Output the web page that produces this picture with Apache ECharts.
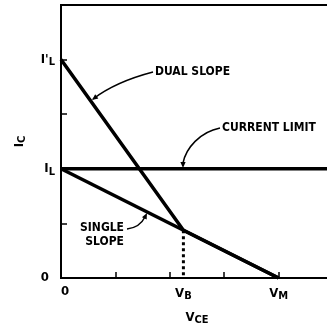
<!DOCTYPE html>
<html lang="en">
<head>
	<meta charset="UTF-8">
	<title>Dual slope current limit</title>
	<style>
		html, body { margin: 0; padding: 0; background: #fff; }
	</style>
</head>
<body>
	<div id="main" style="width: 327px;height:327px;"></div>
</body>
<script type="text/javascript" src="https://cdn.jsdelivr.net/npm/echarts@6/dist/echarts.min.js"></script>
<script type="text/javascript">
	// values (axis units: tick spacing = 1)
	var vB = 2.25;          // V_B
	var vM = 4;             // V_M
	var iL = 2;             // I_L
	var iLp = 4;            // I'_L
	var kneeI = 0.875;      // current at V_B on the single slope

	var dualSlope = [[0, iLp], [vB, kneeI], [vM, 0]];
	var singleSlope = [[0, iL], [vM, 0]];
	var currentLimit = [[0, iL], [5, iL]];
	var vbDrop = [[vB, kneeI], [vB, 0]];

	var xTicks = [1, 2, 3, 4];
	var yTicks = [1, 2, 3, 4];
	var xLabelValues = [0, vB, vM];
	var yLabelValues = [0, iL, iLp];

	var font = '"Liberation Sans Narrow", "DejaVu Sans Condensed", sans-serif';
	var black = '#000';

	var myChart = echarts.init(document.getElementById('main'));

	myChart.setOption({
		animation: false,
		grid: {
			left: 61, width: 272, top: 5, height: 273,
			outerBoundsMode: 'none',
			show: true, borderColor: black, borderWidth: 2
		},
		xAxis: {
			type: 'value', min: 0, max: 5,
			name: '{v|V}{s|CE}',
			nameLocation: 'middle', nameGap: 31,
			nameTextStyle: {
				rich: {
					v: { fontFamily: font, fontWeight: 'bold', fontSize: 13, color: black },
					s: { fontFamily: font, fontWeight: 'bold', fontSize: 11, color: black, verticalAlign: 'bottom', padding: [6, 0, 0, 0] }
				}
			},
			splitLine: { show: false },
			axisLine: { lineStyle: { color: black, width: 2 } },
			axisTick: { show: true, inside: true, length: 6, customValues: xTicks, lineStyle: { color: black, width: 1.5 } },
			axisLabel: {
				customValues: xLabelValues,
				margin: 7,
				formatter: function (v) {
					if (v === 0) return '{z|0}';
					if (v === vB) return '{n|V}{s|B}';
					if (v === vM) return '{n|V}{s|M}';
					return '';
				},
				rich: {
					z: { fontFamily: font, fontWeight: 'bold', fontSize: 13, color: black, padding: [0, 0, 0, 8] },
					n: { fontFamily: font, fontWeight: 'bold', fontSize: 13, color: black },
					s: { fontFamily: font, fontWeight: 'bold', fontSize: 11, color: black, padding: [6, 0, 0, 0] }
				}
			}
		},
		yAxis: {
			type: 'value', min: 0, max: 5,
			name: '{v|I}{s|C}',
			nameLocation: 'middle', nameGap: 33, nameRotate: 90,
			nameTextStyle: {
				rich: {
					v: { fontFamily: font, fontWeight: 'bold', fontSize: 13, color: black },
					s: { fontFamily: font, fontWeight: 'bold', fontSize: 11, color: black, padding: [6, 0, 0, 0] }
				}
			},
			splitLine: { show: false },
			axisLine: { lineStyle: { color: black, width: 2 } },
			axisTick: { show: true, inside: true, length: 6, customValues: yTicks, lineStyle: { color: black, width: 1.5 } },
			axisLabel: {
				customValues: yLabelValues,
				margin: 6,
				formatter: function (v) {
					if (v === 0) return '{z|0}';
					if (v === iL) return '{n|I}{s|L}';
					if (v === iLp) return '{n|I\'}{s|L}';
					return '';
				},
				rich: {
					z: { fontFamily: font, fontWeight: 'bold', fontSize: 13, color: black, padding: [0, 6, 0, 0] },
					n: { fontFamily: font, fontWeight: 'bold', fontSize: 13, color: black },
					s: { fontFamily: font, fontWeight: 'bold', fontSize: 11, color: black, padding: [6, 0, 0, 0] }
				}
			}
		},
		series: [
			{ name: 'dual slope', type: 'line', data: dualSlope, symbol: 'none', lineStyle: { color: black, width: 3.5 } },
			{ name: 'single slope', type: 'line', data: singleSlope, symbol: 'none', lineStyle: { color: black, width: 3.5 } },
			{ name: 'current limit', type: 'line', data: currentLimit, symbol: 'none', lineStyle: { color: black, width: 3.5 } },
			{ name: 'vb', type: 'line', data: vbDrop, symbol: 'none', lineStyle: { color: black, width: 3, type: [3, 3] } }
		]
	});

	// annotation texts and curved arrows
	var txt = { fontFamily: font, fontWeight: 'bold', fontSize: 12, fill: black };
	function arrowHead(x, y, ang) {
		var l = 6, w = 2.6;
		var c = Math.cos(ang), s = Math.sin(ang);
		return {
			type: 'polygon',
			shape: { points: [[x, y], [x - l * c + w * s, y - l * s - w * c], [x - l * c - w * s, y - l * s + w * c]] },
			style: { fill: black }
		};
	}
	myChart.setOption({
		graphic: [
			{ type: 'text', x: 155, y: 72, style: Object.assign({ text: 'DUAL SLOPE', verticalAlign: 'middle' }, txt) },
			{ type: 'bezierCurve', shape: { x1: 153, y1: 72, cpx1: 130, cpy1: 78, cpx2: 110, cpy2: 86, x2: 93, y2: 99 }, style: { stroke: black, lineWidth: 1.5, fill: null } },
			arrowHead(92, 100, Math.atan2(99 - 86, 93 - 110)),
			{ type: 'text', x: 222, y: 128, style: Object.assign({ text: 'CURRENT LIMIT', verticalAlign: 'middle' }, txt) },
			{ type: 'bezierCurve', shape: { x1: 220, y1: 128, cpx1: 200, cpy1: 132, cpx2: 186, cpy2: 148, x2: 183, y2: 163 }, style: { stroke: black, lineWidth: 1.5, fill: null } },
			arrowHead(183, 168, Math.PI / 2),
			{ type: 'text', x: 124, y: 228, style: Object.assign({ text: 'SINGLE', verticalAlign: 'middle', align: 'right' }, txt) },
			{ type: 'text', x: 124, y: 242, style: Object.assign({ text: 'SLOPE', verticalAlign: 'middle', align: 'right' }, txt) },
			{ type: 'bezierCurve', shape: { x1: 127, y1: 229, cpx1: 136, cpy1: 228, cpx2: 142, cpy2: 223, x2: 145, y2: 217 }, style: { stroke: black, lineWidth: 1.5, fill: null } },
			arrowHead(147, 213, Math.atan2(217 - 223, 145 - 142))
		]
	});
</script>
</html>
